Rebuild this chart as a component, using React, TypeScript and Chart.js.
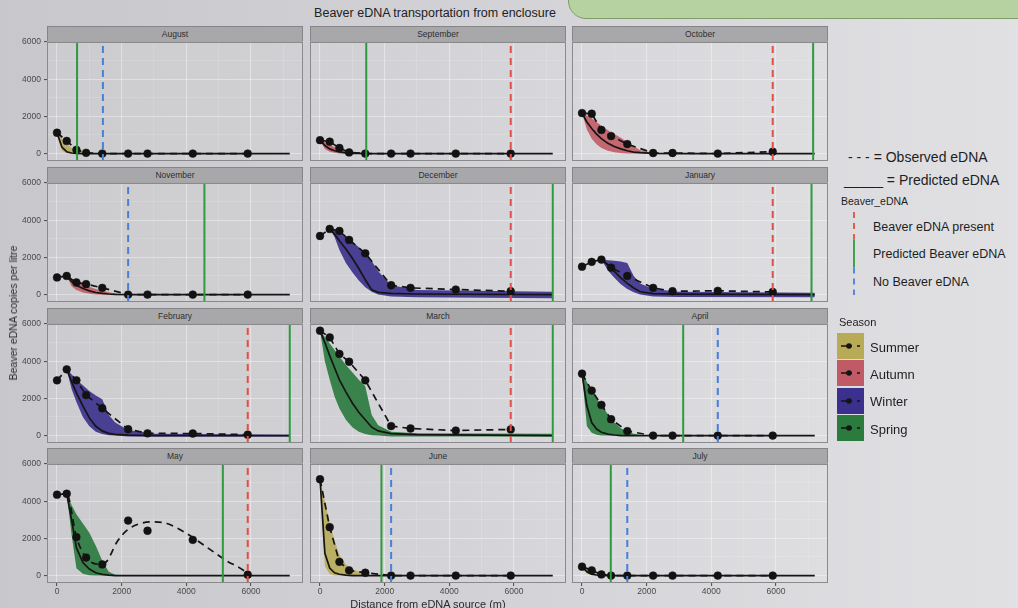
import React, { useEffect, useRef } from "react";
import { Chart, registerables } from "chart.js";

Chart.register(...registerables);

const FONT = '"Liberation Sans", Arial, Helvetica, sans-serif';

// ---------------- DATA ----------------
const months = ["August", "September", "October", "November", "December", "January", "February", "March", "April", "May", "June", "July"];
const seasonNames = ["Summer", "Autumn", "Winter", "Spring"];
const seasonColors = ["#b8ab57", "#c05b65", "#3b308d", "#2b7a3e"];
const monthSeason = [0, 1, 1, 1, 2, 2, 2, 3, 3, 3, 0, 0];

const xTicks = [0, 1000, 2000, 3000, 4000, 5000, 6000, 7000];
const yTicks = [0, 1000, 2000, 3000, 4000, 5000, 6000];
const xLimits = [-310, 7610];
const yLimits = [-400, 6000];

// observed samples (distance from source, m)
const obsDistance = [0, 300, 600, 900, 1400, 2200, 2800, 4200, 5900];
const observed: number[][] = [
  [1120, 680, 200, 40, 0, 0, 0, 0, 0], // August
  [720, 640, 300, 60, 0, 0, 0, 0, 0], // September
  [2180, 2140, 1270, 940, 510, 30, 30, 0, 100], // October
  [920, 1000, 650, 560, 360, 0, 0, 0, 0], // November
  [3150, 3530, 3420, 2940, 2220, 500, 360, 270, 180], // December
  [1500, 1760, 1880, 1450, 1000, 360, 180, 200, 140], // January
  [2970, 3560, 2970, 2180, 1470, 340, 120, 110, 50], // February
  [5640, 5280, 4390, 3970, 2970, 510, 380, 270, 330], // March
  [3330, 2420, 1650, 880, 240, 0, 0, 0, 0], // April
  [4350, 4400, 2070, 970, 600, 2960, 2410, 1920, 50], // May
  [5180, 2600, 740, 280, 150, 0, 0, 0, 0], // June
  [480, 280, 60, 0, 0, 0, 0, 0, 0], // July
];

const mayCurveDistance = [0, 300, 600, 900, 1400, 1550, 1850, 2160, 2570, 2990, 3400, 4020, 4640, 5250, 5800, 5900];
const mayCurveValue = [4350, 4400, 2070, 970, 600, 790, 1790, 2430, 2795, 2890, 2800, 2250, 1520, 790, 240, 50];

// predicted model (mid line and ribbon)
const predDistance = [0, 150, 300, 450, 600, 800, 1000, 1200, 1400, 1600, 1800, 2200, 3000, 7200];
const N = null;
const predMid: (number | null)[][] = [
  [1120, 350, 100, 30, 10, 0, 0, 0, 0, 0, 0, 0, 0, 0],
  [720, 430, 250, 150, 90, 40, 15, 5, 0, 0, 0, 0, 0, 0],
  [2180, 1700, 1350, 1050, 800, 550, 380, 250, 150, 80, 50, 10, 0, 0],
  [N, N, 1000, 700, 500, 330, 200, 110, 60, 30, 10, 0, 0, 0],
  [N, N, 3530, 3250, 2900, 2450, 1950, 1400, 800, 250, 120, 60, 30, 0],
  [N, N, N, N, 1880, 1600, 1250, 900, 600, 350, 150, 50, 20, 0],
  [N, N, 3560, 2900, 2300, 1600, 950, 500, 250, 120, 60, 20, 0, 0],
  [5640, 5000, 4300, 3650, 3000, 2350, 1750, 1250, 850, 450, 250, 100, 50, 0],
  [3330, 1600, 700, 350, 180, 80, 30, 0, 0, 0, 0, 0, 0, 0],
  [N, N, 4400, 3000, 1500, 700, 350, 150, 60, 20, 0, 0, 0, 0],
  [5180, 1200, 400, 150, 70, 20, 0, 0, 0, 0, 0, 0, 0, 0],
  [480, 200, 80, 30, 10, 0, 0, 0, 0, 0, 0, 0, 0, 0],
];
const predLow: (number | null)[][] = [
  [1120, 150, 20, 0, 0, 0, 0, 0, 0, 0, 0, 0, 0, 0],
  [720, 250, 100, 40, 10, 0, 0, 0, 0, 0, 0, 0, 0, 0],
  [2180, 1300, 800, 500, 300, 150, 70, 30, 10, 0, 0, 0, 0, 0],
  [N, N, 1000, 450, 250, 110, 40, 10, 0, 0, 0, 0, 0, 0],
  [N, N, 3530, 3100, 2400, 1700, 1200, 750, 400, 150, 0, -100, -150, -200],
  [N, N, N, N, 1880, 1300, 900, 550, 300, 130, 0, -100, -130, -150],
  [N, N, 3560, 2500, 1800, 1000, 500, 200, 80, 20, 0, -50, -50, -50],
  [5640, 4000, 3000, 2100, 1450, 850, 450, 200, 80, 20, 0, -50, -50, -50],
  [3330, 500, 150, 50, 0, 0, 0, 0, 0, 0, 0, 0, 0, 0],
  [N, N, 4400, 2200, 400, 100, 20, 0, 0, 0, 0, 0, 0, 0],
  [5180, 500, 80, 0, 0, 0, 0, 0, 0, 0, 0, 0, 0, 0],
  [480, 100, 20, 0, 0, 0, 0, 0, 0, 0, 0, 0, 0, 0],
];
const predHigh: (number | null)[][] = [
  [1120, 800, 500, 300, 180, 80, 30, 10, 0, 0, 0, 0, 0, 0],
  [720, 620, 480, 340, 230, 120, 60, 25, 10, 0, 0, 0, 0, 0],
  [2180, 2050, 1900, 1700, 1500, 1250, 1050, 850, 620, 400, 180, 40, 0, 0],
  [N, N, 1000, 850, 700, 550, 420, 300, 200, 120, 60, 0, 0, 0],
  [N, N, 3530, 3450, 3300, 3100, 2850, 2550, 2250, 1800, 1250, 500, 250, 150],
  [N, N, N, N, 1880, 1850, 1820, 1780, 1700, 1000, 600, 300, 150, 100],
  [N, N, 3560, 3300, 3000, 2700, 2400, 2150, 1950, 1100, 700, 300, 100, 50],
  [5640, 5300, 4950, 4600, 4250, 3800, 3400, 3000, 2650, 1100, 550, 200, 120, 100],
  [3330, 2900, 2400, 2000, 1650, 1150, 700, 400, 200, 100, 50, 0, 0, 0],
  [N, N, 4400, 3800, 3300, 2800, 2300, 1600, 800, 200, 50, 0, 0, 0],
  [5180, 4000, 2800, 1900, 1100, 600, 350, 200, 100, 0, 0, 0, 0, 0],
  [480, 400, 300, 200, 120, 60, 20, 0, 0, 0, 0, 0, 0, 0],
];

// vertical reference lines
const presentAt: (number | null)[] = [N, 5900, 5900, N, 5900, 5900, 5900, 5900, N, 5900, N, N];
const predictedAt: number[] = [620, 1430, 7150, 4560, 7200, 7100, 7200, 7200, 3130, 5130, 1900, 890];
const absentAt: (number | null)[] = [1420, N, N, 2200, N, N, N, N, 4200, N, 2200, 1400];

// ---------------- STYLE ----------------
const RED = "#df5148";
const GREEN = "#2e9a3e";
const BLUE = "#4a7fd6";
const PANEL_BG = "rgba(255,255,255,0.06)";
const GRID_MAJOR = "rgba(255,255,255,0.38)";
const GRID_MINOR = "rgba(255,255,255,0.2)";
const BORDER = "#8a8a8d";

const L = 36, T = 8, R = 6, B = 22;
const PW = 256, PH = 119;
const colLeft = [47, 310, 572];
const rowTop = [42, 183, 324, 464];

const panelPlugin = {
  id: "panelBox",
  beforeDraw(chart: any) {
    const { ctx, chartArea: a } = chart;
    ctx.save();
    ctx.fillStyle = PANEL_BG;
    ctx.fillRect(a.left, a.top, a.width, a.height);
    ctx.restore();
  },
  afterDraw(chart: any) {
    const { ctx, chartArea: a } = chart;
    ctx.save();
    ctx.strokeStyle = BORDER;
    ctx.lineWidth = 1;
    ctx.strokeRect(a.left + 0.5, a.top + 0.5, a.width - 1, a.height - 1);
    ctx.restore();
  },
};

function toPoints(xs: number[], ys: (number | null)[]) {
  return xs.map((x, i) => ({ x, y: ys[i] })).filter((p) => p.y !== null);
}

function Panel({ idx }: { idx: number }) {
  const ref = useRef<HTMLCanvasElement | null>(null);
  const col = idx % 3;
  const row = Math.floor(idx / 3);
  const W = L + PW + R;
  const H = T + PH + B;

  useEffect(() => {
    const canvas = ref.current;
    if (!canvas) return;
    const season = monthSeason[idx];
    const vline = (x: number, color: string, dash: number[]) => ({
      data: [
        { x, y: yLimits[0] },
        { x, y: yLimits[1] },
      ],
      borderColor: color,
      borderWidth: 2,
      borderDash: dash,
      pointRadius: 0,
      fill: false,
    });
    const datasets: any[] = [];
    const pa = presentAt[idx];
    const ab = absentAt[idx];
    if (pa !== null) datasets.push(vline(pa, RED, [7, 5]));
    datasets.push(vline(predictedAt[idx], GREEN, []));
    if (ab !== null) datasets.push(vline(ab, BLUE, [7, 5]));

    datasets.push({
      data: toPoints(obsDistance, observed[idx]),
      showLine: false,
      pointRadius: 3.9,
      pointBackgroundColor: "#121212",
      pointBorderColor: "#121212",
      pointBorderWidth: 0.5,
    });
    const isMay = months[idx] === "May";
    datasets.push({
      data: isMay ? toPoints(mayCurveDistance, mayCurveValue) : toPoints(obsDistance, observed[idx]),
      borderColor: "#141414",
      borderWidth: 1.7,
      borderDash: [7, 5],
      pointRadius: 0,
      fill: false,
      cubicInterpolationMode: isMay ? "monotone" : "default",
    });
    datasets.push({
      data: toPoints(predDistance, predMid[idx]),
      borderColor: "#151515",
      borderWidth: 1.7,
      pointRadius: 0,
      fill: false,
    });
    datasets.push({
      data: toPoints(predDistance, predLow[idx]),
      borderColor: "rgba(0,0,0,0)",
      borderWidth: 0,
      pointRadius: 0,
      fill: false,
    });
    datasets.push({
      data: toPoints(predDistance, predHigh[idx]),
      borderColor: "rgba(0,0,0,0)",
      borderWidth: 0,
      pointRadius: 0,
      fill: "-1",
      backgroundColor: seasonColors[season] + "e8",
    });

    const tickFont = { family: FONT, size: 8.5 };
    const chart = new Chart(canvas, {
      type: "line",
      data: { datasets },
      plugins: [panelPlugin],
      options: {
        responsive: false,
        maintainAspectRatio: false,
        animation: false,
        devicePixelRatio: 1,
        events: [],
        layout: { padding: { top: T, right: R, left: 0, bottom: 0 } },
        plugins: { legend: { display: false }, tooltip: { enabled: false }, title: { display: false } },
        scales: {
          x: {
            type: "linear",
            min: xLimits[0],
            max: xLimits[1],
            afterBuildTicks: (s: any) => {
              s.ticks = xTicks.map((v) => ({ value: v }));
            },
            afterFit: (s: any) => {
              s.height = B;
              s.paddingLeft = 0;
              s.paddingRight = 0;
            },
            ticks: {
              display: row === 3,
              autoSkip: false,
              maxRotation: 0,
              minRotation: 0,
              padding: 1,
              color: "#4a4a4a",
              font: tickFont,
              callback: (v: any) => (Number(v) % 2000 === 0 ? String(v) : ""),
            },
            grid: {
              color: (c: any) => (c.tick && c.tick.value % 2000 === 0 ? GRID_MAJOR : GRID_MINOR),
              lineWidth: (c: any) => (c.tick && c.tick.value % 2000 === 0 ? 1.1 : 0.7),
              drawTicks: row === 3,
              tickLength: 3,
              tickColor: (c: any) => (c.tick && c.tick.value % 2000 === 0 ? "#555" : "rgba(0,0,0,0)"),
            },
            border: { display: false },
          },
          y: {
            type: "linear",
            min: yLimits[0],
            max: yLimits[1],
            afterBuildTicks: (s: any) => {
              s.ticks = yTicks.map((v) => ({ value: v }));
            },
            afterFit: (s: any) => {
              s.width = L;
              s.paddingTop = 0;
              s.paddingBottom = 0;
            },
            ticks: {
              display: col === 0,
              autoSkip: false,
              padding: 3,
              color: "#4a4a4a",
              font: tickFont,
              callback: (v: any) => (Number(v) % 2000 === 0 ? String(v) : ""),
            },
            grid: {
              color: (c: any) => (c.tick && c.tick.value % 2000 === 0 ? GRID_MAJOR : GRID_MINOR),
              lineWidth: (c: any) => (c.tick && c.tick.value % 2000 === 0 ? 1.1 : 0.7),
              drawTicks: col === 0,
              tickLength: 3,
              tickColor: (c: any) => (c.tick && c.tick.value % 2000 === 0 ? "#555" : "rgba(0,0,0,0)"),
            },
            border: { display: false },
          },
        },
      } as any,
    });
    return () => chart.destroy();
  }, [idx, col, row]);

  return (
    <canvas
      ref={ref}
      width={W}
      height={H}
      style={{ position: "absolute", left: colLeft[col] - L, top: rowTop[row] - T, width: W, height: H }}
    />
  );
}

function Strip({ idx }: { idx: number }) {
  const col = idx % 3;
  const row = Math.floor(idx / 3);
  return (
    <div
      style={{
        position: "absolute",
        left: colLeft[col],
        top: rowTop[row] - 16,
        width: PW,
        height: 16,
        boxSizing: "border-box",
        background: "#a8a8ab",
        border: "1px solid #858588",
        borderBottom: "1.5px solid #6e6e71",
        color: "#2e2e2e",
        fontSize: 8.5,
        lineHeight: "14px",
        textAlign: "center",
      }}
    >
      {months[idx]}
    </div>
  );
}

export default function App() {
  useEffect(() => {
    document.body.style.margin = "0";
  }, []);
  const beaverKeys = [
    { label: "Beaver eDNA present", color: RED, dash: "6 5" },
    { label: "Predicted Beaver eDNA", color: GREEN, dash: "" },
    { label: "No Beaver eDNA", color: BLUE, dash: "6 5" },
  ];
  return (
    <div
      style={{
        position: "fixed",
        left: 0,
        top: 0,
        width: 1018,
        height: 608,
        overflow: "hidden",
        background: "linear-gradient(90deg,#c8c7cb 0%,#d2d1d5 45%,#e1e1e4 100%)",
        fontFamily: FONT,
        color: "#1e1e1e",
      }}
    >
      <div
        style={{
          position: "absolute",
          left: 568,
          top: -22,
          width: 480,
          height: 41,
          boxSizing: "border-box",
          background: "#b7d2a1",
          border: "1.5px solid #7f9c6c",
          borderRadius: 18,
        }}
      />
      <div
        style={{
          position: "absolute",
          left: 435,
          top: 13,
          transform: "translate(-50%,-50%)",
          whiteSpace: "nowrap",
          fontSize: 12.5,
          color: "#222",
        }}
      >
        Beaver eDNA transportation from enclosure
      </div>

      {months.map((m, i) => (
        <Strip key={"s" + m} idx={i} />
      ))}
      {months.map((m, i) => (
        <Panel key={"p" + m} idx={i} />
      ))}

      <div
        style={{
          position: "absolute",
          left: 13,
          top: 313,
          transform: "translate(-50%,-50%) rotate(-90deg)",
          whiteSpace: "nowrap",
          fontSize: 10.5,
          color: "#2a2a2a",
        }}
      >
        Beaver eDNA copies per litre
      </div>
      <div
        style={{
          position: "absolute",
          left: 428,
          top: 604,
          transform: "translate(-50%,-50%)",
          whiteSpace: "nowrap",
          fontSize: 11,
          color: "#2a2a2a",
        }}
      >
        Distance from eDNA source (m)
      </div>

      {/* legend */}
      <div style={{ position: "absolute", left: 848, top: 157, transform: "translateY(-50%)", fontSize: 14, whiteSpace: "nowrap" }}>
        - - - = Observed eDNA
      </div>
      <div style={{ position: "absolute", left: 844, top: 180, transform: "translateY(-50%)", fontSize: 14, whiteSpace: "nowrap" }}>
        _____ = Predicted eDNA
      </div>
      <div style={{ position: "absolute", left: 841, top: 201, transform: "translateY(-50%)", fontSize: 10.5, whiteSpace: "nowrap" }}>
        Beaver_eDNA
      </div>
      <svg style={{ position: "absolute", left: 845, top: 212 }} width={20} height={84}>
        {beaverKeys.map((k, i) => (
          <line
            key={k.label}
            x1={9}
            x2={9}
            y1={i * 27.7}
            y2={(i + 1) * 27.7}
            stroke={k.color}
            strokeWidth={1.8}
            strokeDasharray={k.dash || undefined}
          />
        ))}
      </svg>
      {beaverKeys.map((k, i) => (
        <div
          key={"bl" + k.label}
          style={{
            position: "absolute",
            left: 873,
            top: 226.5 + i * 27.5,
            transform: "translateY(-50%)",
            fontSize: 12.5,
            whiteSpace: "nowrap",
          }}
        >
          {k.label}
        </div>
      ))}
      <div style={{ position: "absolute", left: 839, top: 322, transform: "translateY(-50%)", fontSize: 11, whiteSpace: "nowrap" }}>
        Season
      </div>
      {seasonNames.map((s, i) => (
        <React.Fragment key={s}>
          <svg style={{ position: "absolute", left: 837, top: 333 + i * 27.4 }} width={27} height={26}>
            <rect x={0} y={0} width={27} height={26} fill={seasonColors[i]} />
            <line x1={4} x2={24} y1={13} y2={13} stroke="#151515" strokeWidth={1.5} strokeDasharray="11 5 3" />
            <circle cx={12} cy={13} r={2.8} fill="#151515" />
          </svg>
          <div
            style={{
              position: "absolute",
              left: 870,
              top: 346.5 + i * 27.4,
              transform: "translateY(-50%)",
              fontSize: 13,
              whiteSpace: "nowrap",
            }}
          >
            {s}
          </div>
        </React.Fragment>
      ))}
    </div>
  );
}
